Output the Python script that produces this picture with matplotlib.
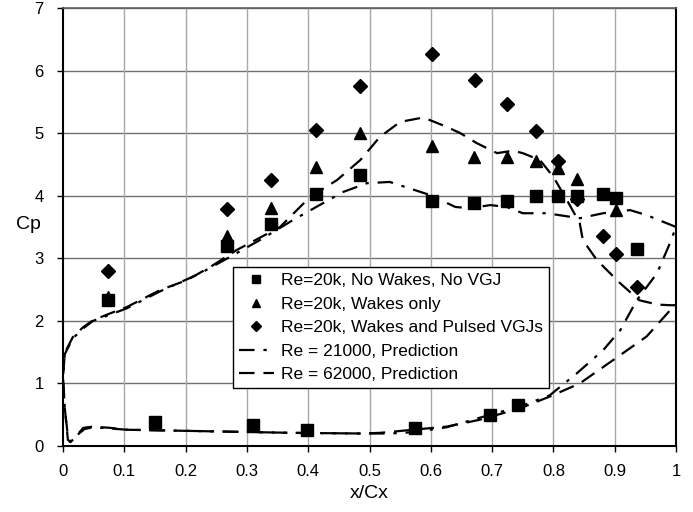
import matplotlib
matplotlib.use("Agg")
import matplotlib.pyplot as plt

plt.rcParams["font.family"] = ["Liberation Sans", "DejaVu Sans"]

# measured data
x_nw = [0.073, 0.268, 0.34, 0.413, 0.485, 0.602, 0.67, 0.724, 0.772, 0.807, 0.838, 0.881, 0.902, 0.936,
        0.15, 0.31, 0.398, 0.574, 0.697, 0.742]
cp_nw = [2.33, 3.2, 3.55, 4.03, 4.33, 3.91, 3.88, 3.91, 3.99, 3.99, 4.0, 4.02, 3.96, 3.15,
         0.38, 0.33, 0.26, 0.28, 0.49, 0.65]

x_wk = [0.073, 0.268, 0.34, 0.413, 0.485, 0.602, 0.67, 0.724, 0.772, 0.807, 0.838, 0.902]
cp_wk = [2.38, 3.36, 3.8, 4.46, 5.0, 4.8, 4.62, 4.62, 4.55, 4.44, 4.26, 3.77]

x_vgj = [0.073, 0.268, 0.34, 0.413, 0.485, 0.602, 0.672, 0.724, 0.772, 0.807, 0.838, 0.881, 0.902, 0.936]
cp_vgj = [2.8, 3.79, 4.25, 5.05, 5.76, 6.26, 5.85, 5.47, 5.03, 4.55, 3.95, 3.35, 3.07, 2.54]

# Re = 21000 prediction (upper then lower surface)
x_21 = [1.0, 0.995, 0.952, 0.925, 0.881, 0.843, 0.789, 0.75, 0.724, 0.697, 0.664, 0.64, 0.599, 0.533,
        0.496, 0.457, 0.424, 0.375, 0.321, 0.272, 0.224, 0.158, 0.104, 0.077, 0.049, 0.033, 0.016,
        0.003, 0.0, 0.003, 0.008, 0.012, 0.02, 0.035, 0.049, 0.077, 0.104, 0.158, 0.267, 0.375, 0.485,
        0.533, 0.571, 0.626, 0.697, 0.745, 0.794, 0.838, 0.881, 0.909, 0.936, 0.969, 0.99, 1.0]
cp_21 = [3.5, 3.52, 3.69, 3.77, 3.72, 3.64, 3.72, 3.72, 3.82, 3.85, 3.8, 3.82, 4.01, 4.22,
         4.2, 4.06, 3.88, 3.61, 3.29, 3.02, 2.76, 2.47, 2.2, 2.1, 2.0, 1.88, 1.72,
         1.47, 1.1, 0.6, 0.15, 0.07, 0.15, 0.27, 0.3, 0.28, 0.26, 0.25, 0.23, 0.21, 0.2,
         0.2, 0.22, 0.3, 0.5, 0.63, 0.81, 1.16, 1.53, 1.85, 2.33, 2.76, 3.24, 3.5]

# Re = 62000 prediction (upper then lower surface)
x_62 = [1.0, 0.99, 0.97, 0.94, 0.909, 0.871, 0.848, 0.843, 0.822, 0.8, 0.778, 0.75, 0.734, 0.708,
        0.675, 0.648, 0.626, 0.588, 0.55, 0.517, 0.485, 0.447, 0.403, 0.354, 0.283, 0.24, 0.202,
        0.158, 0.104, 0.077, 0.049, 0.033, 0.016, 0.003, 0.0, 0.003, 0.008, 0.012, 0.02, 0.033,
        0.049, 0.077, 0.104, 0.158, 0.267, 0.375, 0.485, 0.517, 0.571, 0.626, 0.68, 0.745, 0.794,
        0.843, 0.897, 0.952, 0.995, 1.0]
cp_62 = [2.25, 2.25, 2.26, 2.33, 2.6, 2.97, 3.29, 3.56, 3.93, 4.3, 4.57, 4.68, 4.72, 4.68,
         4.84, 5.0, 5.1, 5.25, 5.18, 4.94, 4.57, 4.25, 3.98, 3.5, 3.13, 2.86, 2.65,
         2.49, 2.22, 2.12, 2.01, 1.9, 1.74, 1.49, 1.1, 0.6, 0.1, 0.06, 0.14, 0.29,
         0.31, 0.29, 0.26, 0.25, 0.23, 0.21, 0.2, 0.21, 0.26, 0.31, 0.42, 0.6, 0.79,
         1.0, 1.37, 1.75, 2.22, 2.25]

fig = plt.figure(figsize=(6.93, 5.12), dpi=100)
ax = fig.add_axes([0.0909, 0.1289, 0.8846, 0.8555])

for y in range(1, 8):
    ax.axhline(y, color="#707070", lw=1.0, zorder=0)
for xv in [0.1, 0.2, 0.3, 0.4, 0.5, 0.6, 0.7, 0.8, 0.9]:
    ax.axvline(xv, color="#a8a8a8", lw=1.0, zorder=0)

ax.plot(x_nw, cp_nw, "s", color="black", ms=8, ls="none", label="Re=20k, No Wakes, No VGJ")
ax.plot(x_wk, cp_wk, "^", color="black", ms=8, ls="none", label="Re=20k, Wakes only")
ax.plot(x_vgj, cp_vgj, "D", color="black", ms=7, ls="none", label="Re=20k, Wakes and Pulsed VGJs")
ax.plot(x_21, cp_21, color="black", lw=1.6, dashes=[7, 4, 1.5, 4], label="Re = 21000, Prediction")
ax.plot(x_62, cp_62, color="black", lw=1.6, dashes=[7, 4], label="Re = 62000, Prediction")

ax.set_xlim(0, 1)
ax.set_ylim(0, 7)
ax.set_xticks([0, 0.1, 0.2, 0.3, 0.4, 0.5, 0.6, 0.7, 0.8, 0.9, 1])
ax.set_xticklabels(["0", "0.1", "0.2", "0.3", "0.4", "0.5", "0.6", "0.7", "0.8", "0.9", "1"])
ax.set_yticks(range(8))
ax.tick_params(direction="out", length=4, width=1, labelsize=12, colors="black")
ax.tick_params(axis="x", pad=9)
ax.tick_params(axis="y", pad=10)

for s in ["left", "bottom", "right"]:
    ax.spines[s].set_linewidth(1.5)
    ax.spines[s].set_color("black")
ax.spines["top"].set_color("#606060")
ax.spines["top"].set_linewidth(1.2)

ax.set_xlabel("x/Cx", fontsize=14, va="top")
ax.xaxis.set_label_coords(0.5, -0.089)
ax.set_ylabel("Cp", fontsize=14, rotation=0, va="center", ha="center")
ax.yaxis.set_label_coords(-0.056, 0.505)

leg = ax.legend(loc="lower left", bbox_to_anchor=(0.277, 0.132), fontsize=12.5, frameon=True,
                fancybox=False, edgecolor="black", framealpha=1, markerscale=0.7,
                handlelength=2.0, handletextpad=0.4, labelspacing=0.48, borderpad=0.35,
                borderaxespad=0)
leg.get_frame().set_linewidth(1.0)

fig.savefig("out.png", dpi=100)
